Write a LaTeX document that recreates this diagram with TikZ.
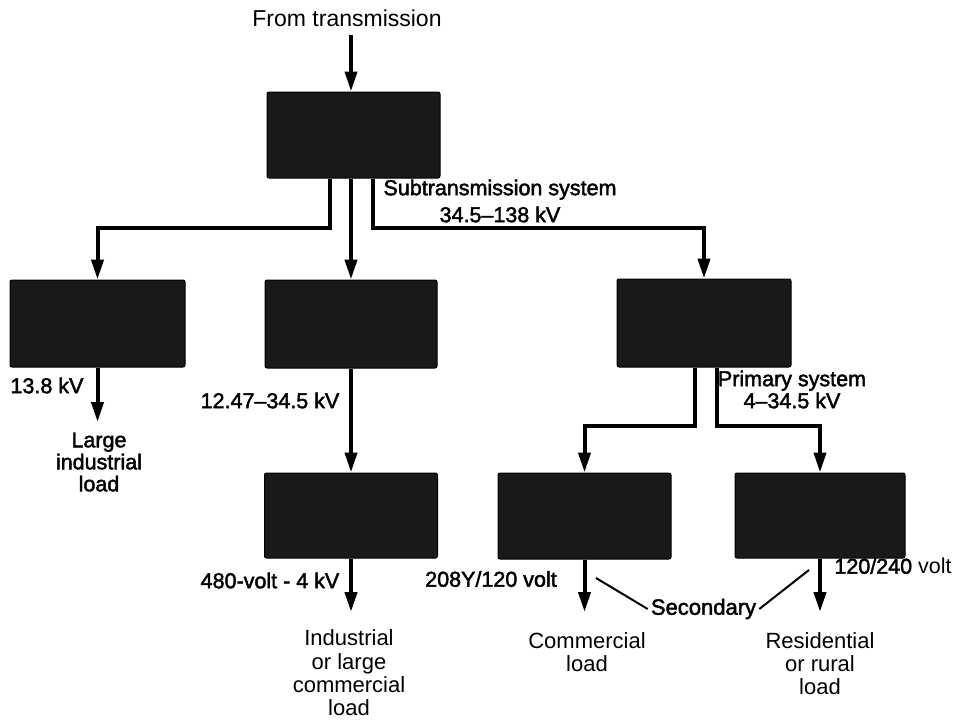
\documentclass[tikz,border=0pt]{standalone}
\usepackage{fontspec}
\setmainfont{Liberation Sans}
\newfontfamily\medfont[FakeBold=2.0]{Liberation Sans}
\usetikzlibrary{arrows.meta}
\tikzset{
  box/.style={draw=black, line width=1pt, fill=black!90, rounded corners=2pt,
    minimum width=173pt, minimum height=86pt, inner sep=0pt},
  regular/.style={font=\fontsize{22}{23.3}\selectfont, align=center, inner sep=0pt},
  medium/.style={font=\medfont\fontsize{21.5}{22}\selectfont, align=center, inner sep=0pt},
  arr/.style={line width=4pt, -{Triangle[length=20pt,width=12pt]}},
  secline/.style={line width=2pt}
}
\begin{document}
\begin{tikzpicture}[x=1pt,y=-1pt]
\useasboundingbox (0,0) rectangle (955,720);
% boxes
\node[box] (sub) at (353.5,135) {};
\node[box, minimum width=175pt, minimum height=87pt] (ind) at (97.5,323.5) {};
\node[box, minimum width=172pt, minimum height=88pt] (dist) at (351,324) {};
\node[box, minimum width=174pt, minimum height=88pt] (prim) at (704,323) {};
\node[box, minimum height=85pt] (ind2) at (351,515.5) {};
\node[box] (com) at (584.5,516) {};
\node[box, minimum width=170pt, minimum height=85pt] (res) at (820,515.5) {};
% texts
\node[regular, font=\fontsize{23}{24}\selectfont] (from) at (347,18) {From transmission};
\node[medium, font=\medfont\fontsize{21.5}{27}\selectfont] (subl) at (500,201) {Subtransmission system\\34.5–138 kV};
\node[medium] (l138) at (47,385.5) {13.8 kV};
\node[medium] (large) at (99,462) {Large\\industrial\\load};
\node[medium] (l1247) at (270,400.5) {12.47–34.5 kV};
\node[medium] (priml) at (792,389.5) {Primary system\\4–34.5 kV};
\node[medium] (l480) at (270,580.5) {480-volt - 4 kV};
\node[medium] (l208) at (491,579) {208Y/120 volt};
\node[medium] (l120) at (893,566) {120/240 {\rmfamily volt}};
\node[medium, font=\medfont\fontsize{22}{23}\selectfont, inner sep=3pt] (sec) at (703.5,609) {Secondary};
\node[regular] (indl) at (349,673) {Industrial\\or large\\commercial\\load};
\node[regular] (coml) at (587,652) {Commercial\\load};
\node[regular] (resl) at (820,663.5) {Residential\\or rural\\load};
% helper coordinates
\coordinate (j1) at (0,228);
\coordinate (j2) at (0,426);
\coordinate (t1) at (97.5,422);
\coordinate (t2) at (351,612);
\coordinate (t3) at (584.5,612);
\coordinate (t4) at (820,612);
\coordinate (s1) at (596,578);
\coordinate (s2) at (809,570);
% connectors
\draw[arr, shorten <=8pt] (from.south -| dist.north) -- (sub.north -| dist.north);
\draw[arr] ([xshift=-23.5pt]sub.south) |- (j1 -| ind.north) -- (ind.north);
\draw[arr] (sub.south -| dist.north) -- (dist.north);
\draw[arr] ([xshift=19.5pt]sub.south) |- (j1 -| prim.north) -- (prim.north);
\draw[arr] (dist.south) -- (ind2.north);
\draw[arr] ([xshift=-9pt]prim.south) |- (j2 -| com.north) -- (com.north);
\draw[arr] ([xshift=13pt]prim.south) |- (j2 -| res.north) -- (res.north);
\draw[arr] (ind.south) -- (t1);
\draw[arr] (ind2.south) -- (t2);
\draw[arr] (com.south) -- (t3);
\draw[arr] (res.south) -- (t4);
\draw[secline] (s1) -- (sec.west);
\draw[secline] (sec.east) -- (s2);
\end{tikzpicture}
\end{document}
